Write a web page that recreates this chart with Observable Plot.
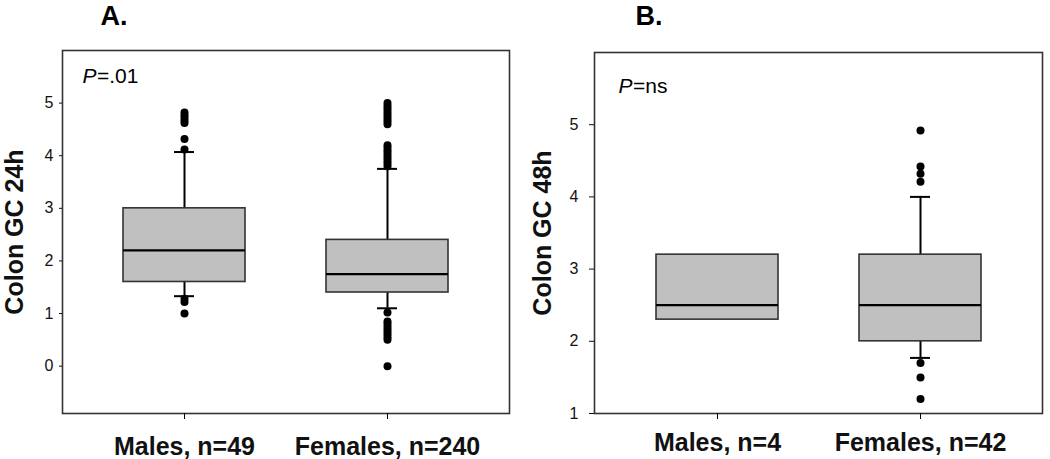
<!DOCTYPE html>
<html>
<head>
<meta charset="utf-8">
<script src="https://cdn.jsdelivr.net/npm/d3@7"></script>
<script src="https://cdn.jsdelivr.net/npm/@observablehq/plot@0.6"></script>
<style>
  html, body { margin: 0; padding: 0; background: #fff; }
  #wrap { position: relative; width: 1050px; height: 459px; overflow: hidden; }
  #panelA, #panelB { position: absolute; top: 0; }
  #panelA { left: 0; }
  #panelB { left: 525px; }
</style>
</head>
<body>
<div id="wrap"><div id="panelA"></div><div id="panelB"></div></div>
<script>
// ---------- Panel A: Colon GC 24h ----------
const catsA = ["Males, n=49", "Females, n=240"];
const q1A = [1.6, 1.4];
const medianA = [2.2, 1.75];
const q3A = [3.0, 2.4];
const whiskerLowA = [1.33, 1.1];
const whiskerHighA = [4.07, 3.75];
const outliersMalesA = [4.82, 4.77, 4.72, 4.67, 4.62, 4.32, 4.12, 1.28, 1.22, 1.0];
const outliersFemalesA = [5.0, 4.95, 4.9, 4.85, 4.8, 4.75, 4.7, 4.65, 4.6,
  4.2, 4.15, 4.1, 4.05, 4.0, 3.95, 3.9, 3.85, 3.8,
  1.02, 0.85, 0.8, 0.75, 0.7, 0.65, 0.6, 0.55, 0.5, 0.0];
const ticksA = [0, 1, 2, 3, 4, 5];
const labelA = "Colon GC 24h";
const pA = "=.01";

// ---------- Panel B: Colon GC 48h ----------
const catsB = ["Males, n=4", "Females, n=42"];
const q1B = [2.3, 2.0];
const medianB = [2.5, 2.5];
const q3B = [3.2, 3.2];
const whiskerLowB = [null, 1.77];
const whiskerHighB = [null, 4.0];
const outliersMalesB = [];
const outliersFemalesB = [4.92, 4.42, 4.32, 4.21, 1.7, 1.5, 1.2];
const ticksB = [1, 2, 3, 4, 5];
const labelB = "Colon GC 48h";
const pB = "=ns";

const FONT = '"Liberation Sans", Arial, Helvetica, sans-serif';

function boxes(cats, q1, med, q3, lo, hi) {
  return cats.map((c, i) => ({cat: c, q1: q1[i], med: med[i], q3: q3[i], lo: lo[i], hi: hi[i]}));
}
function outs(cats, lists) {
  const rows = [];
  cats.forEach((c, i) => lists[i].forEach(v => rows.push({cat: c, v})));
  return rows;
}

function panel(o) {
  const B = boxes(o.cats, o.q1, o.med, o.q3, o.lo, o.hi);
  const W = B.filter(d => d.lo != null && d.hi != null);
  const O = outs(o.cats, o.outliers);
  return Plot.plot({
    width: 525,
    height: 459,
    marginLeft: o.marginLeft,
    marginRight: o.marginRight,
    marginTop: o.marginTop,
    marginBottom: o.marginBottom,
    style: {fontFamily: FONT, color: "#111", background: "#fff", overflow: "visible"},
    x: {domain: o.cats, paddingInner: 0.4, paddingOuter: 0.3, align: 0.5},
    y: {domain: o.yDomain, nice: false},
    marks: [
      Plot.ruleX(W, {x: "cat", y1: "q3", y2: "hi", stroke: "#000", strokeWidth: 2}),
      Plot.ruleX(W, {x: "cat", y1: "lo", y2: "q1", stroke: "#000", strokeWidth: 2}),
      Plot.barY(B, {x: "cat", y1: "q1", y2: "q3", fill: "#c0c0c0", stroke: "#333", strokeWidth: 1.6}),
      Plot.tickY(B, {x: "cat", y: "med", stroke: "#000", strokeWidth: 2.2}),
      Plot.tickY(W, {x: "cat", y: "hi", stroke: "#000", strokeWidth: 2, insetLeft: 51, insetRight: 51}),
      Plot.tickY(W, {x: "cat", y: "lo", stroke: "#000", strokeWidth: 2, insetLeft: 51, insetRight: 51}),
      Plot.dot(O, {x: "cat", y: "v", r: 4, fill: "#000", stroke: null}),
      Plot.frame({stroke: "#333", strokeWidth: 1.6}),
      Plot.axisY({ticks: o.ticks, tickSize: o.tickSize, tickPadding: o.tickPadding, fontSize: 16, label: null, tickFormat: d => String(d)}),
      Plot.axisX({tickSize: 6, tickPadding: o.xPad, fontSize: 25, fontWeight: "bold", label: null, stroke: "#000"}),
      Plot.text([o.label], {frameAnchor: "left", rotate: -90, dx: o.labelDx, lineAnchor: "bottom", textAnchor: "middle", fontSize: 25, fontWeight: "bold", fill: "#111"}),
      Plot.text([o.title], {frameAnchor: "top-left", dx: o.titleDx, dy: o.titleDy, lineAnchor: "bottom", textAnchor: "start", fontSize: 27, fontWeight: "bold", fill: "#000"}),
      Plot.text(["P"], {frameAnchor: "top-left", dx: o.pDx, dy: o.pDy, lineAnchor: "bottom", textAnchor: "start", fontSize: 21, fontStyle: "italic", fill: "#000"}),
      Plot.text([o.pText], {frameAnchor: "top-left", dx: o.pDx + 14.5, dy: o.pDy, lineAnchor: "bottom", textAnchor: "start", fontSize: 21, fill: "#000"})
    ]
  });
}

document.getElementById("panelA").appendChild(panel({
  cats: catsA, q1: q1A, med: medianA, q3: q3A, lo: whiskerLowA, hi: whiskerHighA,
  outliers: [outliersMalesA, outliersFemalesA],
  yDomain: [-0.9, 6], ticks: ticksA, tickSize: 3, tickPadding: 6,
  marginLeft: 62, marginRight: 16, marginTop: 50, marginBottom: 46, xPad: 18,
  label: labelA, labelDx: -39.5, title: "A.", titleDx: 38, titleDy: -25.5,
  pText: pA, pDx: 20, pDy: 32.5
}));

document.getElementById("panelB").appendChild(panel({
  cats: catsB, q1: q1B, med: medianB, q3: q3B, lo: whiskerLowB, hi: whiskerHighB,
  outliers: [outliersMalesB, outliersFemalesB],
  yDomain: [1, 6], ticks: ticksB, tickSize: 5, tickPadding: 11,
  marginLeft: 69, marginRight: 8, marginTop: 52, marginBottom: 46, xPad: 13.5,
  label: labelB, labelDx: -44, title: "B.", titleDx: 41, titleDy: -27.5,
  pText: pB, pDx: 24, pDy: 40.5
}));
</script>
</body>
</html>
